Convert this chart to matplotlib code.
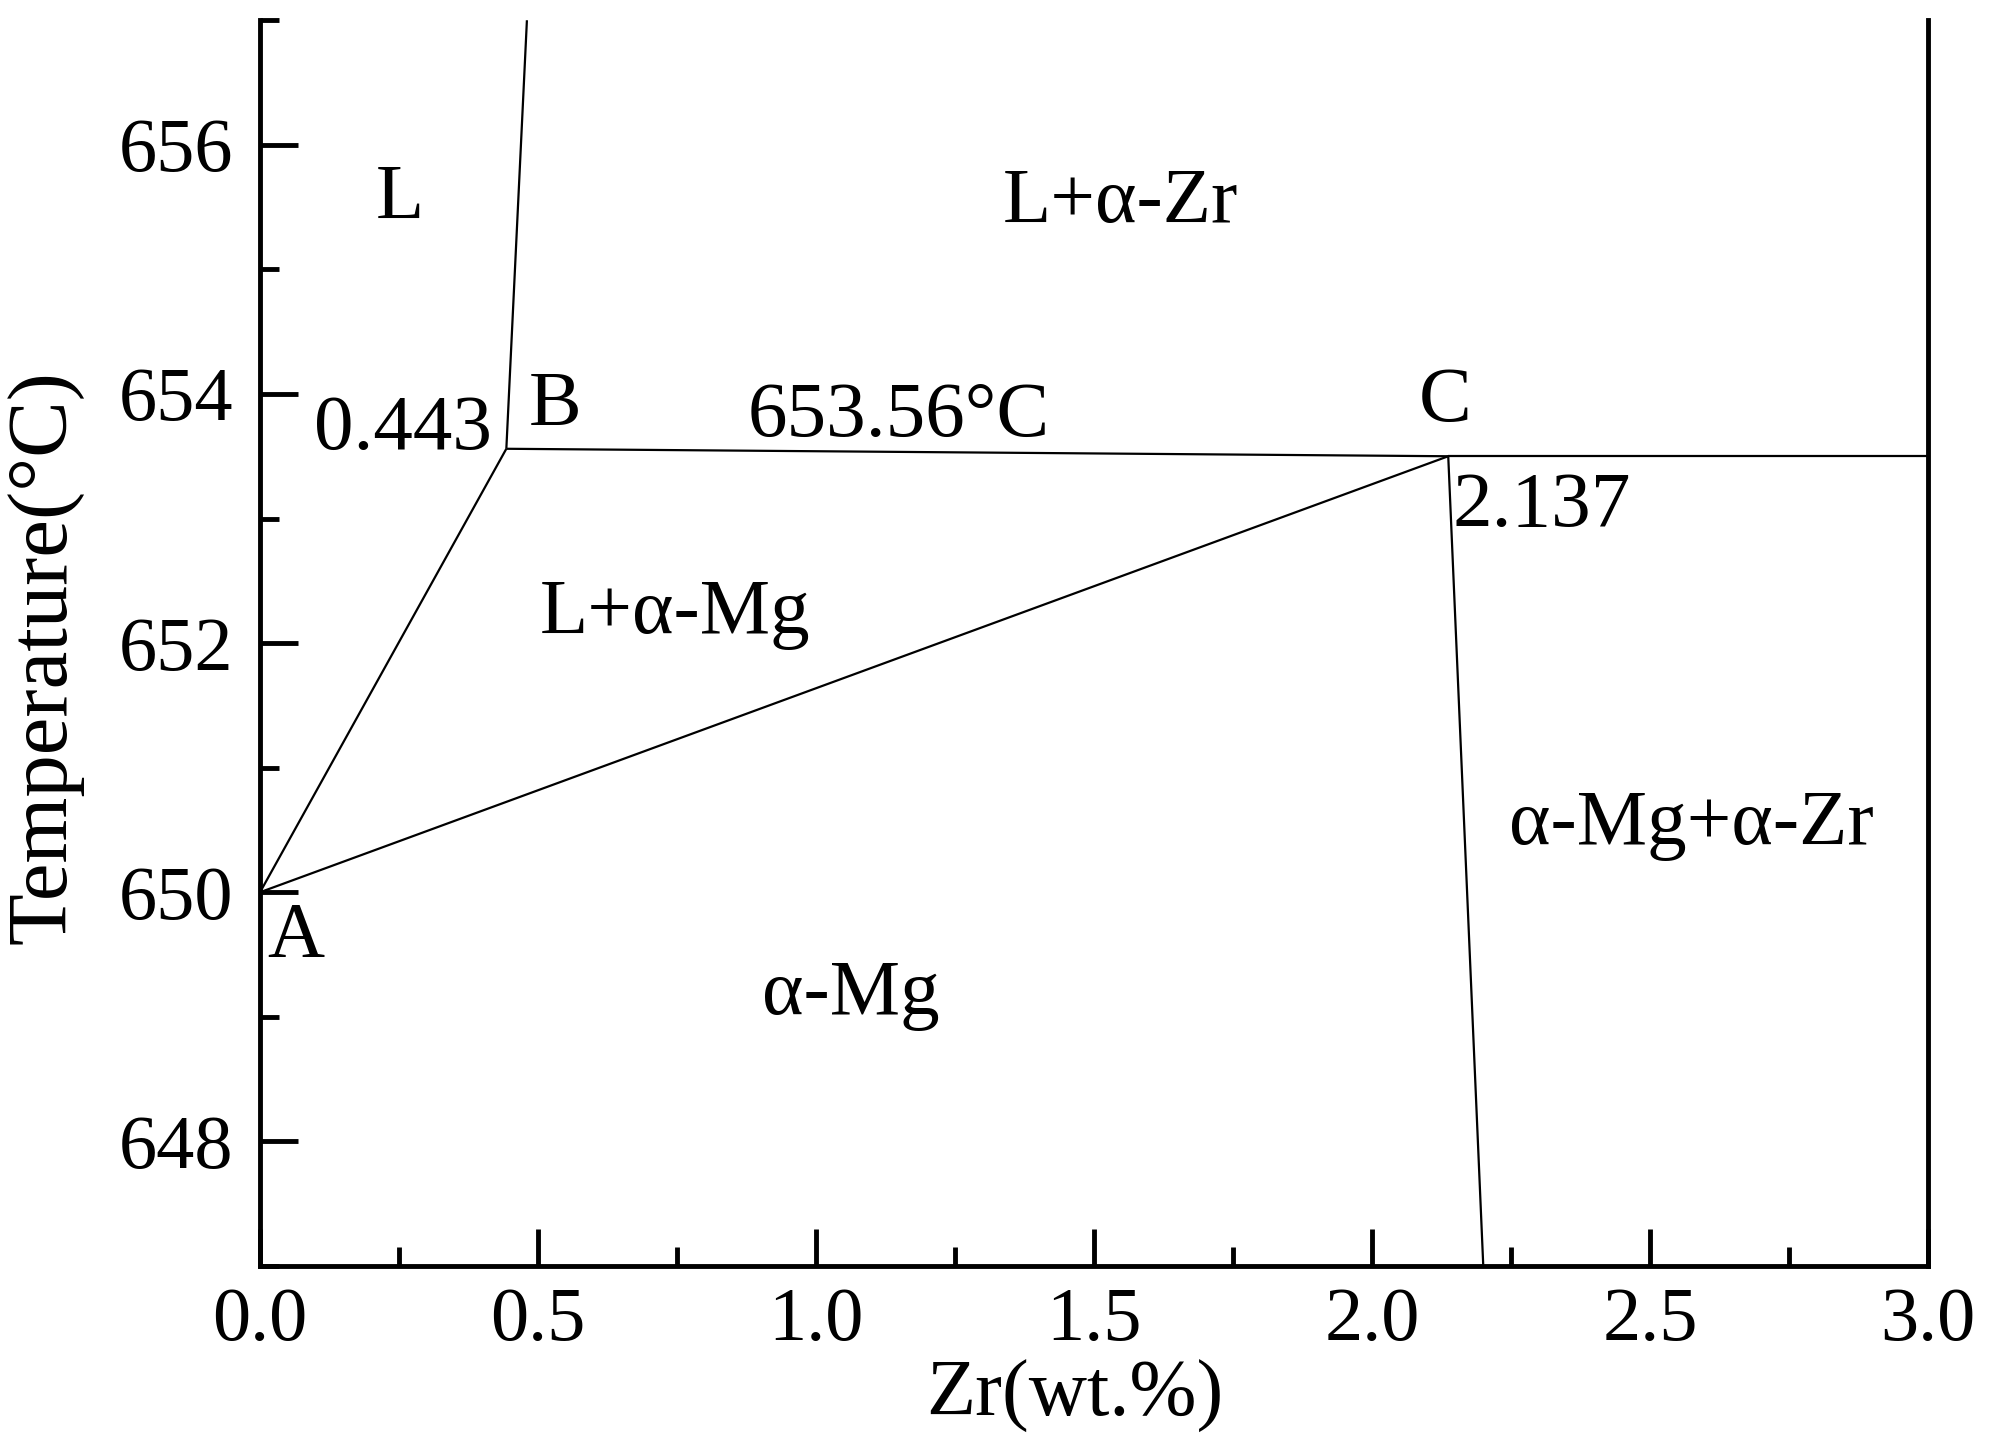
import numpy as np
import matplotlib
matplotlib.use("Agg")
import matplotlib.pyplot as plt
from matplotlib.ticker import MultipleLocator

plt.rcParams['font.family'] = ['Liberation Serif', 'DejaVu Serif']
FS_TICK = 55
FS_TEXT = 57
FS_XLABEL = 58
FS_YLABEL = 61

# phase boundary points (Zr wt.%, temperature)
A = (0.0, 650.0)
B = (0.443, 653.56)
C = (2.137, 653.50)
liquidus_top = (0.48, 657.0)
solvus_bottom = (2.2, 647.0)
eutectic_right = (3.0, 653.50)

# region / point labels (x, y, text, ha)
labels = [
    (0.251, 655.56, "L", 'center'),
    (1.547, 655.53, "L+α-Zr", 'center'),
    (0.418, 653.71, "0.443", 'right'),
    (0.530, 653.90, "B", 'center'),
    (1.149, 653.81, "653.56°C", 'center'),
    (2.132, 653.93, "C", 'center'),
    (2.305, 653.09, "2.137", 'center'),
    (0.747, 652.23, "L+α-Mg", 'center'),
    (2.575, 650.54, "α-Mg+α-Zr", 'center'),
    (0.064, 649.64, "A", 'center'),
    (1.062, 649.17, "α-Mg", 'center'),
]

segments = [
    (B, liquidus_top),
    (A, B),
    (B, C),
    (A, C),
    (C, eutectic_right),
    (C, solvus_bottom),
]

fig = plt.figure(figsize=(19.91, 14.46), dpi=100)
ax = fig.add_axes([0.1306, 0.1245, 0.9684 - 0.1306, 0.986 - 0.1245])

for p, q in segments:
    ax.plot([p[0], q[0]], [p[1], q[1]], color='black', lw=1.6, solid_capstyle='butt')

for x, y, t, ha in labels:
    ax.text(x, y, t, fontsize=FS_TEXT, ha=ha, va='center')

ax.set_xlim(0, 3.0)
ax.set_ylim(647, 657)
ax.xaxis.set_major_locator(MultipleLocator(0.5))
ax.xaxis.set_minor_locator(MultipleLocator(0.25))
ax.yaxis.set_major_locator(MultipleLocator(2))
ax.yaxis.set_minor_locator(MultipleLocator(1))
ax.xaxis.set_major_formatter(plt.FormatStrFormatter('%.1f'))
ax.yaxis.set_major_formatter(plt.FormatStrFormatter('%d'))

ax.spines['top'].set_visible(False)
for s in ['left', 'right', 'bottom']:
    ax.spines[s].set_linewidth(3.5)
ax.tick_params(which='both', direction='in', top=False, right=False, width=3.5)
ax.tick_params(which='major', length=27, labelsize=FS_TICK)
ax.tick_params(axis='y', which='major', pad=19)
ax.tick_params(axis='x', which='major', pad=15)
ax.tick_params(which='minor', length=14)

ax.set_xlabel("Zr(wt.%)", fontsize=FS_XLABEL)
ax.set_ylabel("Temperature(°C)", fontsize=FS_YLABEL)
ax.xaxis.set_label_coords(0.4886, -0.075)
ax.yaxis.set_label_coords(-0.106, 0.489)

fig.savefig("out.png", dpi=100)
